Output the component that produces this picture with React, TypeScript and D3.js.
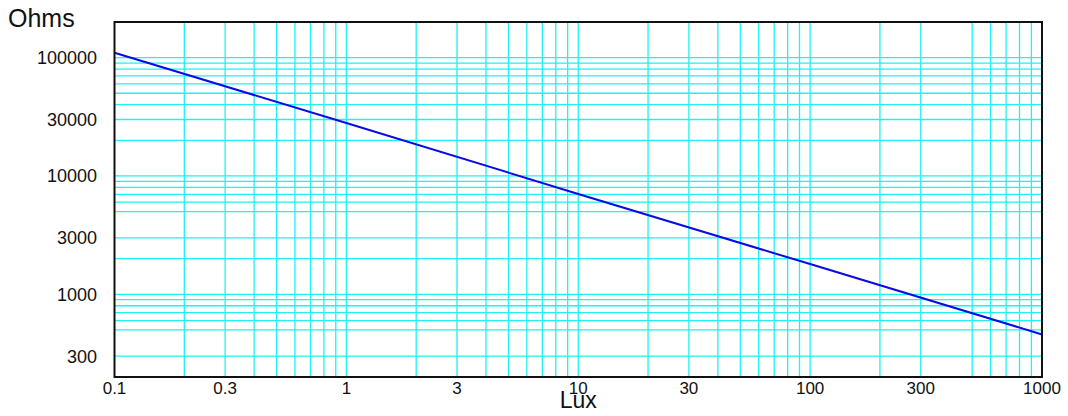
import React from "react";
import * as d3 from "d3";

const luxValues = [0.1, 1, 10, 100, 1000];
const ohmValues = [110000, 28000, 7050, 1800, 458];

const xTickValues = [0.1, 0.3, 1, 3, 10, 30, 100, 300, 1000];
const xTickLabels = ["0.1", "0.3", "1", "3", "10", "30", "100", "300", "1000"];
const yTickValues = [300, 1000, 3000, 10000, 30000, 100000];
const yTickLabels = ["300", "1000", "3000", "10000", "30000", "100000"];

const xGrid = [
  0.2, 0.3, 0.4, 0.5, 0.6, 0.7, 0.8, 0.9, 1,
  2, 3, 4, 5, 6, 7, 8, 9, 10,
  20, 30, 40, 50, 60, 70, 80, 90, 100,
  200, 300, 500, 600, 700, 800, 900,
];
const yGrid = [
  300, 500, 600, 700, 800, 900, 1000,
  2000, 3000, 5000, 6000, 7000, 8000, 9000, 10000,
  20000, 30000, 40000, 50000, 60000, 70000, 80000, 90000, 100000,
];

const W = 1068;
const H = 416;
const left = 114.5;
const right = 1042;
const top = 22;
const bottom = 377;

export default function App() {
  const x = d3.scaleLog().domain([0.1, 1000]).range([left, right]);
  const y = d3.scaleLog().domain([200, 200000]).range([bottom, top]);
  const line = d3
    .line<number>()
    .x((_, i) => x(luxValues[i]))
    .y((d) => y(d));
  const font = "'Liberation Sans', Arial, Helvetica, sans-serif";
  const grid = "#1ef2f2";
  return (
    <svg
      width={W}
      height={H}
      style={{ position: "absolute", left: 0, top: 0, background: "#fff" }}
      fontFamily={font}
    >
      {xGrid.map((v) => (
        <line key={"xg" + v} x1={x(v)} x2={x(v)} y1={top} y2={bottom} stroke={grid} strokeWidth={1.3} />
      ))}
      {yGrid.map((v) => (
        <line key={"yg" + v} x1={left} x2={right} y1={y(v)} y2={y(v)} stroke={grid} strokeWidth={1.3} />
      ))}
      <path d={line(ohmValues) || ""} fill="none" stroke="#0a0ae6" strokeWidth={2} />
      <rect x={left} y={top} width={right - left} height={bottom - top} fill="none" stroke="#111" strokeWidth={2} />
      {yTickValues.map((v, i) => (
        <text key={"yt" + v} x={97} y={y(v) + 6.5} textAnchor="end" fontSize={18} fill="#111">
          {yTickLabels[i]}
        </text>
      ))}
      {xTickValues.map((v, i) => (
        <text key={"xt" + v} x={x(v)} y={394} textAnchor="middle" fontSize={17} fill="#111">
          {xTickLabels[i]}
        </text>
      ))}
      <text x={8} y={27} fontSize={25} fill="#111">Ohms</text>
      <text x={(left + right) / 2} y={408} textAnchor="middle" fontSize={23} fill="#111">Lux</text>
    </svg>
  );
}
